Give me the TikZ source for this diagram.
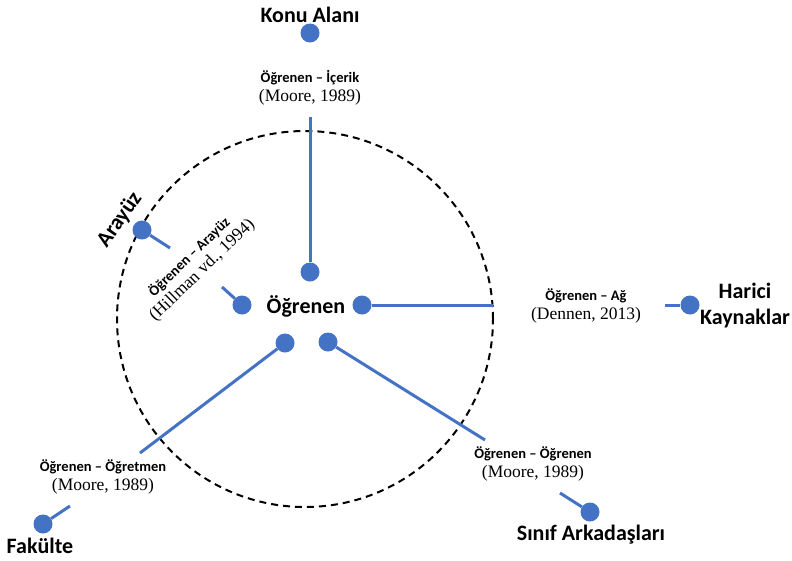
\documentclass[tikz,border=0pt]{standalone}
\usepackage{fontspec}
\setmainfont{Liberation Serif}
\newfontfamily\calib{Carlito}
\usetikzlibrary{positioning}
\definecolor{dotblue}{RGB}{68,114,196}

\tikzset{
  dot/.style={circle, fill=dotblue, inner sep=0pt, minimum size=19pt},
  link/.style={dotblue, line width=3pt},
  actor/.style={font=\calib\bfseries\fontsize{22}{26}\selectfont},
  rel/.style={align=center, inner sep=1pt},
}
\newcommand{\reltext}[2]{{\calib\bfseries\fontsize{14.5}{15}\selectfont #1}\\[3pt]{\fontsize{17.5}{18}\selectfont #2}}

\begin{document}
\begin{tikzpicture}[x=1pt,y=-1pt]
\useasboundingbox (0,0) rectangle (792,560);

\coordinate (C1) at (310,117);
\coordinate (A1) at (493,305);
\coordinate (A2) at (665,305);
\coordinate (T1) at (140,453);
\coordinate (T2) at (70,506);
\coordinate (S1) at (485,440);
\coordinate (S2) at (560,493);
\coordinate (I1) at (170,248);
\coordinate (I2) at (222,287);

\draw[line width=2pt, dash pattern=on 7pt off 5pt] (305,319) circle (188pt);

\node[actor] (learner) at (306,306) {Öğrenen};
\node[dot] (ltop) at (310,272) {};
\node[dot] (lright) at (362,305) {};
\node[dot] (lleft) at (242,305) {};
\node[dot] (llowl) at (285,343) {};
\node[dot] (llowr) at (328,342) {};

\node[dot] (content) at (310,33) {};
\node[dot] (external) at (690,305) {};
\node[dot] (faculty) at (43,524) {};
\node[dot] (peers) at (590,512) {};
\node[dot] (interface) at (142,230) {};

\draw[link] (ltop) -- (C1);
\draw[link] (lright) -- (A1);
\draw[link] (A2) -- (external);
\draw[link] (llowl) -- (T1);
\draw[link] (T2) -- (faculty);
\draw[link] (llowr) -- (S1);
\draw[link] (S2) -- (peers);
\draw[link] (interface) -- (I1);
\draw[link] (I2) -- (lleft);

\node[actor] (contentlbl) at (310,15) {Konu Alanı};
\node[actor, align=center] (externallbl) at (745,306) {Harici\\Kaynaklar};
\node[actor] (facultylbl) at (40,546) {Fakülte};
\node[actor] (peerslbl) at (591,535) {Sınıf Arkadaşları};
\node[actor, rotate=55] (interfacelbl) at (120,220) {Arayüz};

\node[rel] (rcontent) at (310,88) {\reltext{Öğrenen – İçerik}{(Moore, 1989)}};
\node[rel] (rexternal) at (586,306) {\reltext{Öğrenen – Ağ}{(Dennen, 2013)}};
\node[rel] (rfaculty) at (103,477) {\reltext{Öğrenen – Öğretmen}{(Moore, 1989)}};
\node[rel] (rpeers) at (533,464) {\reltext{Öğrenen – Öğrenen}{(Moore, 1989)}};
\node[rel, rotate=44] (rinterface) at (196,264) {\reltext{Öğrenen – Arayüz}{(Hillman vd., 1994)}};
\end{tikzpicture}
\end{document}
